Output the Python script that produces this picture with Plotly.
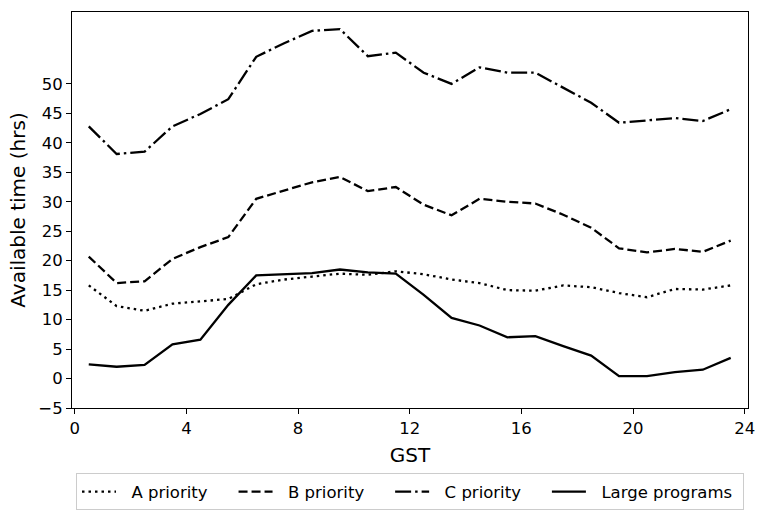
import plotly.graph_objects as go

gst = [0.5, 1.5, 2.5, 3.5, 4.5, 5.5, 6.5, 7.5, 8.5, 9.5, 10.5, 11.5,
       12.5, 13.5, 14.5, 15.5, 16.5, 17.5, 18.5, 19.5, 20.5, 21.5, 22.5, 23.5]

a_priority = [15.8, 12.3, 11.5, 12.7, 13.1, 13.5, 16.0, 16.8, 17.3, 17.8, 17.6, 18.2,
              17.7, 16.8, 16.2, 15.0, 14.9, 15.8, 15.5, 14.5, 13.8, 15.2, 15.1, 15.8]
b_priority = [20.7, 16.2, 16.5, 20.3, 22.3, 24.0, 30.5, 31.9, 33.3, 34.2, 31.8, 32.5,
              29.5, 27.7, 30.5, 30.0, 29.7, 27.8, 25.6, 22.1, 21.4, 22.0, 21.5, 23.4]
c_priority = [42.8, 38.1, 38.5, 42.8, 44.9, 47.4, 54.6, 56.9, 59.0, 59.3, 54.7, 55.3,
              51.9, 50.0, 52.8, 51.9, 51.9, 49.4, 46.8, 43.4, 43.8, 44.2, 43.7, 45.7]
large_programs = [2.4, 2.0, 2.3, 5.8, 6.6, 12.5, 17.5, 17.7, 17.9, 18.5, 18.0, 17.8,
                  14.2, 10.3, 9.0, 7.0, 7.2, 5.5, 3.9, 0.4, 0.4, 1.1, 1.5, 3.5]

x_ticks = [0, 4, 8, 12, 16, 20, 24]
y_ticks = [-5, 0, 5, 10, 15, 20, 25, 30, 35, 40, 45, 50]

# matplotlib-like dash patterns for a 1.5pt line
series = [
    ("A priority", a_priority, "2.5px,4px"),
    ("B priority", b_priority, "9px,4px"),
    ("C priority", c_priority, "16px,4px,2.5px,4px"),
    ("Large programs", large_programs, "solid"),
]

NB = "\u00a0"
fig = go.Figure()
for i, (name, vals, dash) in enumerate(series):
    # pad the legend labels so the entries are spaced like the original
    label = NB * 2 + name + (NB * 4 if i < len(series) - 1 else NB)
    fig.add_trace(go.Scatter(x=gst, y=vals, mode="lines", name=label,
                             line=dict(color="black", width=2.3, dash=dash)))

axis_style = dict(showline=True, linecolor="black", linewidth=1, mirror=True,
                  ticks="outside", ticklen=5, tickcolor="black",
                  showgrid=False, zeroline=False, automargin=False)

# a small standoff makes plotly drop the "12" label under the title, keep it at 11
fig.update_xaxes(range=[-0.1, 24.12], tickvals=x_ticks,
                 title=dict(text="GST", standoff=11), **axis_style)
fig.update_yaxes(range=[-5, 62.2], tickvals=y_ticks,
                 ticktext=[str(v).replace("-", "\u2212") for v in y_ticks],
                 title=dict(text="Available time (hrs)", standoff=7), **axis_style)

fig.update_layout(
    width=768, height=519,
    margin=dict(l=72, r=20, t=12, b=111),
    plot_bgcolor="white", paper_bgcolor="white",
    font=dict(family="DejaVu Sans", size=16.5, color="black"),
    showlegend=True,
    legend=dict(orientation="h", x=0.5, xanchor="center",
                yref="container", y=0.088, yanchor="top",
                bordercolor="#cccccc", borderwidth=1, font=dict(size=16.5),
                itemwidth=34),
)

fig.write_html("out.html", config={"displayModeBar": False},
               post_script="document.body.style.margin='0';")
